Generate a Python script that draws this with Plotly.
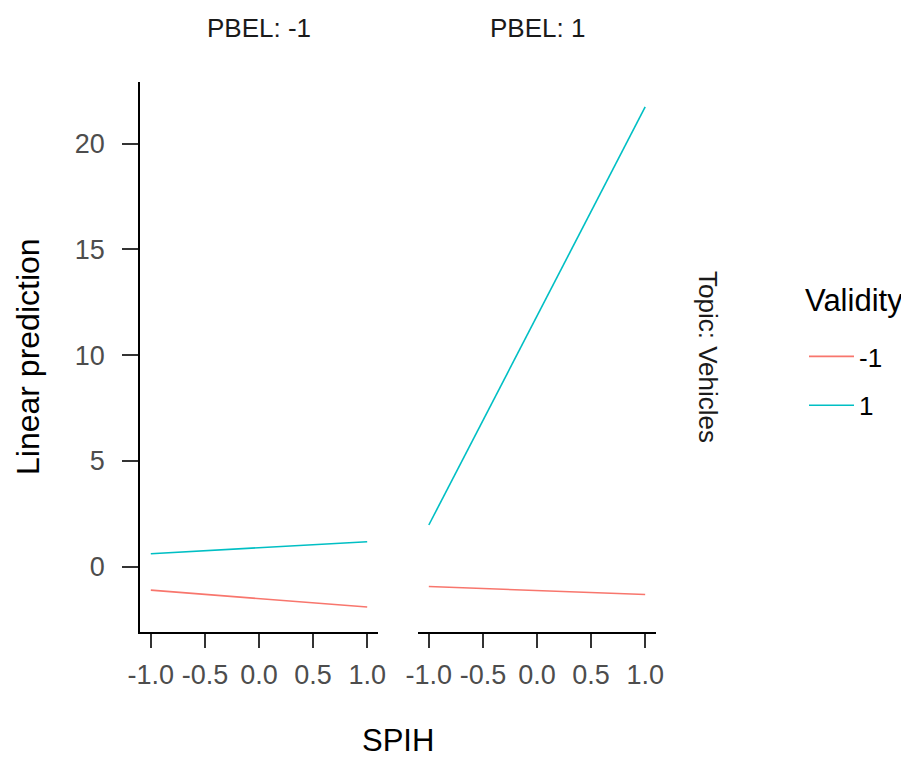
import plotly.graph_objects as go

# Data
spih = [-1.0, 1.0]
pbel_levels = ["-1", "1"]
validity_levels = ["-1", "1"]
# predictions[pbel][validity] at SPIH = -1 and 1
pred_pbel_neg_val_neg = [-1.11, -1.91]
pred_pbel_neg_val_pos = [0.61, 1.18]
pred_pbel_pos_val_neg = [-0.94, -1.32]
pred_pbel_pos_val_pos = [1.97, 21.74]
x_ticks = [-1.0, -0.5, 0.0, 0.5, 1.0]
x_ticktext = ["-1.0", "-0.5", "0.0", "0.5", "1.0"]
y_ticks = [0, 5, 10, 15, 20]

colors = {"-1": "#F8766D", "1": "#00BFC4"}
FONT = "Liberation Sans, Arial, sans-serif"

fig = go.Figure()
series = [
    ("x", "y", "-1", pred_pbel_neg_val_neg, True),
    ("x", "y", "1", pred_pbel_neg_val_pos, True),
    ("x2", "y2", "-1", pred_pbel_pos_val_neg, False),
    ("x2", "y2", "1", pred_pbel_pos_val_pos, False),
]
for xa, ya, val, vals, show in series:
    fig.add_trace(go.Scatter(
        x=spih, y=vals, mode="lines", xaxis=xa, yaxis=ya,
        line=dict(color=colors[val], width=1.6),
        name=val, legendgroup=val, showlegend=show,
    ))

OFF = 8  # page body margin
W, H = 909 - OFF, 757 - OFF
# target screen positions of plot area
SL, SR, ST, SB = 140, 656, 82, 632
L, T = SL - OFF, ST - OFF
R, B = W - (SR - OFF), H - (SB - OFF)
pw, ph = W - L - R, H - T - B

def px_x(p):
    return (p - SL) / pw

def px_y(p):
    return (SB - p) / ph

tickfont = dict(family=FONT, size=27, color="#4D4D4D")
xcommon = dict(range=[-1.1, 1.1], tickvals=x_ticks, ticktext=x_ticktext,
               showline=True, linecolor="black", linewidth=1.5,
               ticks="outside", ticklen=14, tickwidth=1.5, tickcolor="#333333",
               ticklabelstandoff=4,
               tickfont=tickfont, showgrid=False, zeroline=False)
yrange = [-3.09, 22.92]

def ann(text, xp, yp, size, color="#1A1A1A", angle=0):
    return dict(text=text, x=px_x(xp), y=px_y(yp), xref="paper", yref="paper",
                xanchor="center", yanchor="middle", showarrow=False,
                textangle=angle, font=dict(family=FONT, size=size, color=color))

fig.update_layout(
    width=W, height=H,
    margin=dict(l=L, r=R, t=T, b=B, autoexpand=False),
    plot_bgcolor="white", paper_bgcolor="white",
    font=dict(family=FONT),
    xaxis=dict(domain=[0, px_x(378)], anchor="y", **xcommon),
    xaxis2=dict(domain=[px_x(418), 1], anchor="y2", **xcommon),
    yaxis=dict(domain=[0, 1], anchor="x", range=yrange, tickvals=y_ticks,
               showline=True, linecolor="black", linewidth=1.5,
               ticks="outside", ticklen=16, tickwidth=1.5, tickcolor="#333333",
               ticklabelstandoff=12,
               tickfont=tickfont, showgrid=False, zeroline=False),
    yaxis2=dict(domain=[0, 1], anchor="x2", range=yrange, matches="y",
                showline=False, showticklabels=False, ticks="",
                showgrid=False, zeroline=False),
    legend=dict(
        x=px_x(804), y=px_y(333), xanchor="left", yanchor="top",
        font=dict(family=FONT, size=26, color="black"),
        tracegroupgap=12, itemwidth=45, bgcolor="rgba(0,0,0,0)",
    ),
    annotations=[
        ann("PBEL: -1", 259, 28, 26),
        ann("PBEL: 1", 537, 28, 26),
        ann("Topic: Vehicles", 708, 357, 26, angle=90),
        ann("Linear prediction", 28, 357, 32, color="black", angle=-90),
        ann("SPIH", 398, 740, 31, color="black"),
        dict(text="Validity", x=px_x(803), y=px_y(300), xref="paper", yref="paper",
             xanchor="left", yanchor="middle", showarrow=False,
             font=dict(family=FONT, size=31, color="black")),
    ],
)

fig.write_html("out.html")
